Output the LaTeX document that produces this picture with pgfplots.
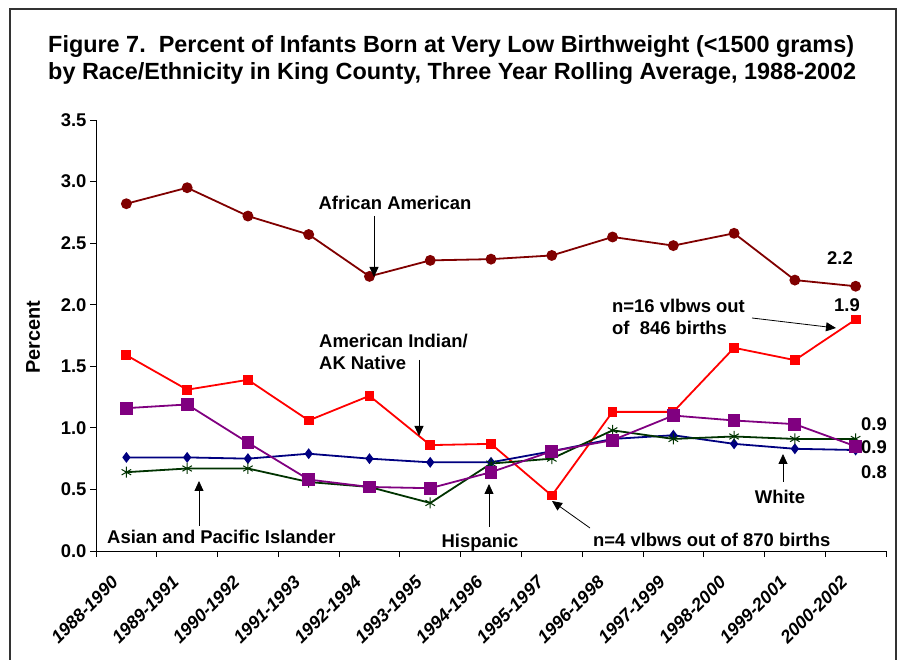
\documentclass[border=0pt]{standalone}
\usepackage{pgfplots}
\pgfplotsset{compat=1.18}
\usepackage{fontspec}
\setmainfont{Liberation Sans}
\usetikzlibrary{arrows.meta}
\definecolor{aacol}{RGB}{128,0,0}
\definecolor{aicol}{RGB}{255,0,0}
\definecolor{hicol}{RGB}{128,0,128}
\definecolor{whcol}{RGB}{0,0,128}
\definecolor{apcol}{RGB}{0,51,0}
\begin{document}
\begin{tikzpicture}
\begin{scope}[x=1bp,y=-1bp,yshift=658bp]
\path[use as bounding box] (0,0) rectangle (899,658);
\end{scope}
\begin{axis}[
  at={(96bp,107bp)}, anchor=south west,
  scale only axis, width=790bp, height=431bp,
  xmin=-0.5, xmax=12.5, ymin=0, ymax=3.5,
  axis x line*=bottom, axis y line*=left,
  axis line style={black, line width=0.8bp, -},
  xtick={0,...,12},
  xticklabels={1988-1990,1989-1991,1990-1992,1991-1993,1992-1994,1993-1995,1994-1996,1995-1997,1996-1998,1997-1999,1998-2000,1999-2001,2000-2002},
  major x tick style={draw=none},
  minor xtick={-0.5,0.5,...,12.5},
  minor tick length=6bp,
  ytick={0,0.5,...,3.5},
  major tick length=6bp,
  tick align=outside,
  tick style={black, line width=0.8bp},
  xticklabel style={font=\fontsize{18}{18}\selectfont\bfseries\itshape, xshift=-16bp, yshift=-13bp, rotate=45, anchor=north east},
  yticklabel style={font=\fontsize{18.5}{18.5}\selectfont\bfseries, /pgf/number format/fixed, /pgf/number format/fixed zerofill, /pgf/number format/precision=1},
  /pgf/number format/assume math mode=true,
  clip=false,
  every axis plot/.append style={line width=1.8bp},
]
\addplot[aacol, mark=*, mark size=4.5bp, mark options={fill=aacol}] coordinates {
(0,2.82)(1,2.95)(2,2.72)(3,2.57)(4,2.23)(5,2.36)(6,2.37)(7,2.40)(8,2.55)(9,2.48)(10,2.58)(11,2.20)(12,2.15)};
\addplot[aicol, mark=square*, mark size=4bp, mark options={fill=aicol}] coordinates {
(0,1.59)(1,1.31)(2,1.39)(3,1.06)(4,1.26)(5,0.86)(6,0.87)(7,0.45)(8,1.13)(9,1.13)(10,1.65)(11,1.55)(12,1.88)};
\addplot[whcol, mark=diamond*, mark size=4bp, mark options={fill=whcol}] coordinates {
(0,0.76)(1,0.76)(2,0.75)(3,0.79)(4,0.75)(5,0.72)(6,0.72)(7,0.81)(8,0.91)(9,0.94)(10,0.87)(11,0.83)(12,0.82)};
\addplot[apcol, mark=asterisk, mark size=5.5bp, mark options={line width=1bp}] coordinates {
(0,0.64)(1,0.67)(2,0.67)(3,0.56)(4,0.52)(5,0.39)(6,0.71)(7,0.75)(8,0.98)(9,0.91)(10,0.93)(11,0.91)(12,0.91)};
\addplot[hicol, mark=square*, mark size=5.5bp, mark options={fill=hicol}] coordinates {
(0,1.16)(1,1.19)(2,0.88)(3,0.58)(4,0.52)(5,0.51)(6,0.64)(7,0.81)(8,0.90)(9,1.10)(10,1.06)(11,1.03)(12,0.85)};
\end{axis}
\begin{scope}[x=1bp,y=-1bp,yshift=658bp, font=\fontsize{18.5}{22}\selectfont\bfseries, >={Triangle[length=10bp,width=9bp]}]
\draw[line width=2bp, black!80] (10,660)--(10,9)--(896,9)--(896,660);
\begin{scope}[font=\fontsize{23.5}{27}\selectfont\bfseries]
\node[anchor=base west, inner sep=0] at (48,53) {Figure 7.\ \ Percent of Infants Born at Very Low Birthweight (<1500 grams)};
\node[anchor=base west, inner sep=0] at (48,80) {by Race/Ethnicity in King County, Three Year Rolling Average, 1988-2002};
\end{scope}
\node[rotate=90, font=\fontsize{20}{20}\selectfont\bfseries] at (33,337) {Percent};
\node at (395,203) {African American};
\draw[->, line width=0.8bp] (374,216) -- (374,277);
\node at (840,258) {2.2};
\node at (847,305) {1.9};
\node[anchor=west, align=left, inner sep=0] at (612,317) {n=16 vlbws out\\of\ \ 846 births};
\draw[->, line width=0.8bp] (752,318) -- (836,328);
\node[anchor=west, align=left, inner sep=0] at (319,352) {American Indian/\\AK Native};
\draw[->, line width=0.8bp] (419,360) -- (419,436);
\node[anchor=west, inner sep=0] at (107,537) {Asian and Pacific Islander};
\draw[->, line width=0.8bp] (199,526) -- (199,481);
\node at (480,543) {Hispanic};
\draw[->, line width=0.8bp] (489,527) -- (489,484);
\node[anchor=west, inner sep=0] at (593,540) {n=4 vlbws out of 870 births};
\draw[->, line width=0.8bp] (590,528) -- (552,501);
\node at (780,497) {White};
\draw[->, line width=0.8bp] (783,482) -- (783,454);
\node at (874,424) {0.9};
\node at (874,447) {0.9};
\node at (874,472) {0.8};
\end{scope}
\end{tikzpicture}
\end{document}
